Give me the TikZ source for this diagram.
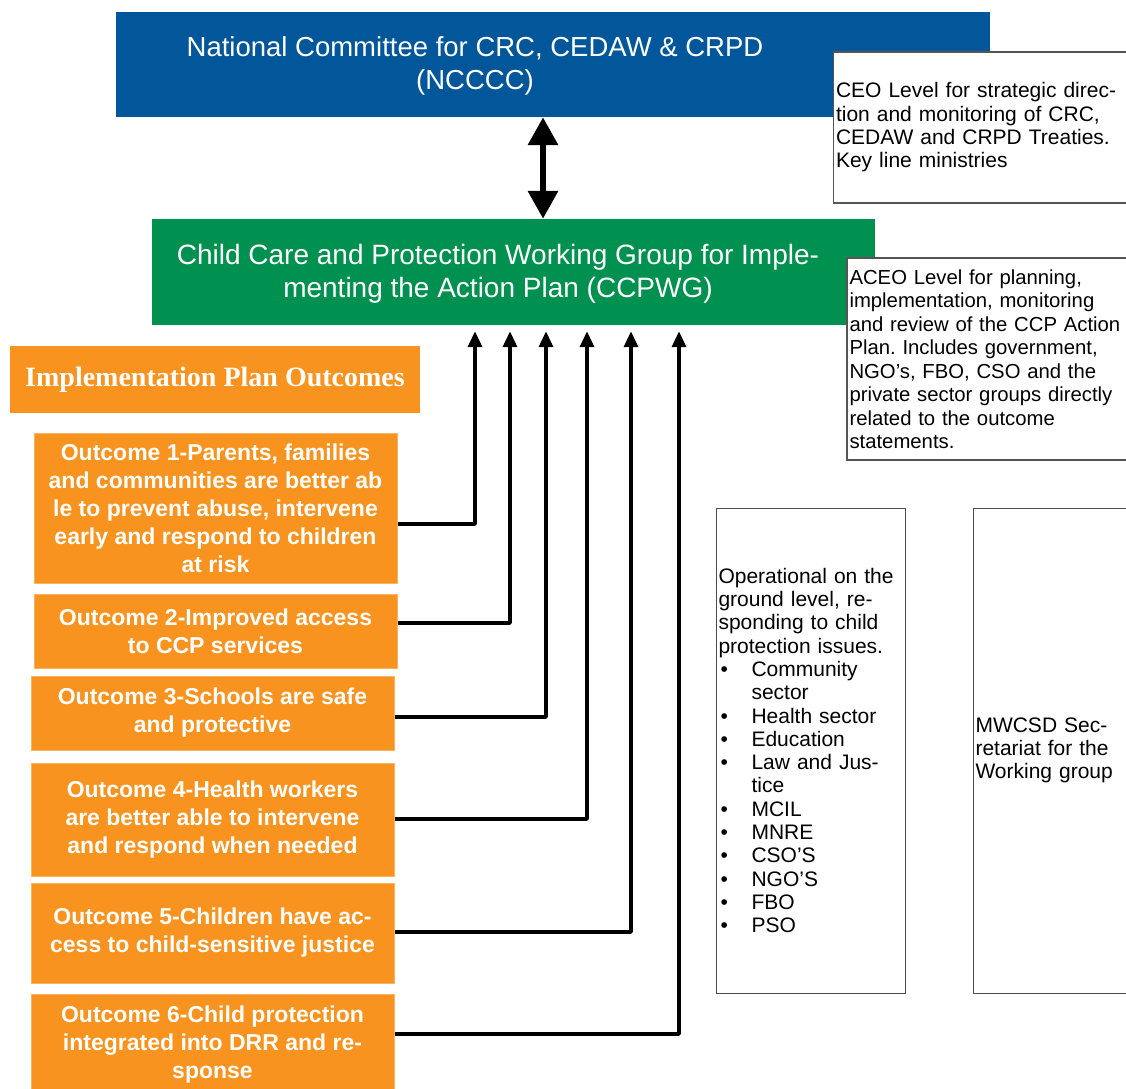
\documentclass[tikz,border=0pt]{standalone}
\usepackage{fontspec}
\setmainfont{Liberation Sans}
\newfontfamily\headserif{Liberation Serif}
\usetikzlibrary{arrows.meta}
\definecolor{ncblue}{HTML}{02569A}
\definecolor{ccgreen}{HTML}{00904F}
\definecolor{outorange}{HTML}{F7931E}
\definecolor{boxgray}{HTML}{555555}
\newcommand\mybul{\makebox[33pt][l]{\hspace{2pt}•}}
\frenchspacing
\begin{document}
\begin{tikzpicture}[x=1pt,y=-1pt,
  solidbox/.style={rectangle, inner sep=0pt, draw=none},
  whitebox/.style={rectangle, draw=boxgray, fill=white, line width=1.5pt, align=left,
     inner xsep=2.5pt, inner ysep=0pt, font=\fontsize{21}{23.3}\selectfont},
  opsbox/.style={whitebox, line width=1pt, draw=black!70},
  outbox/.style={rectangle, fill=outorange, draw=outorange!70!white, line width=1pt,
     text=white, align=center, inner sep=0pt, minimum width=363pt,
     font=\bfseries\fontsize{23}{28}\selectfont},
  titletext/.style={text=white, align=center, inner sep=0pt},
  conn/.style={line width=3.5pt, line join=round, -{Triangle[width=14pt,length=16pt]}, shorten >=6pt},
  dblarr/.style={line width=6.5pt, {Triangle[width=29pt,length=28pt]}-{Triangle[width=29pt,length=28pt]}}
]
\useasboundingbox (0,0) rectangle (1126,1088);
\clip (0,0) rectangle (1126,1088);

% top level
\node[solidbox, fill=ncblue, minimum width=874pt, minimum height=105pt] (ncccc) at (553,64.5) {};
\node[titletext, font=\fontsize{27.5}{33}\selectfont] (nccccT) at (475,66)
  {National Committee for CRC, CEDAW \& CRPD\\(NCCCC)};
\node[whitebox, minimum height=151pt, text width=302pt] (ceo) at (987,127.5)
  {CEO Level for strategic direc-\\tion and monitoring of CRC,\\CEDAW and CRPD Treaties.\\Key line ministries};

% working group
\node[solidbox, fill=ccgreen, minimum width=723pt, minimum height=106pt] (ccpwg) at (513.5,272) {};
\node[titletext, font=\fontsize{28}{33}\selectfont] (ccpwgT) at (498,274)
  {Child Care and Protection Working Group for Imple-\\menting the Action Plan (CCPWG)};
\node[whitebox, minimum height=202pt, text width=283pt, font=\fontsize{20.3}{23.5}\selectfont] (aceo) at (991,359)
  {ACEO Level for planning,\\implementation, monitoring\\and review of the CCP Action\\Plan. Includes government,\\NGO’s, FBO, CSO and the\\private sector groups directly\\related to the outcome\\statements.};

% outcomes
\node[solidbox, fill=outorange, minimum width=410pt, minimum height=67pt, text=white,
  font=\headserif\bfseries\fontsize{28}{32}\selectfont] (ipo) at (215,379.5) {Implementation Plan Outcomes};
\node[outbox, minimum height=150pt] (o1) at (215.5,508)
  {Outcome 1-Parents, families\\and communities are better ab\\le to prevent abuse, intervene\\early and respond to children\\at risk};
\node[outbox, minimum height=74pt] (o2) at (215.5,631)
  {Outcome 2-Improved access\\to CCP services};
\node[outbox, minimum height=74pt] (o3) at (212.5,713)
  {Outcome 3-Schools are safe\\and protective};
\node[outbox, minimum height=113pt] (o4) at (212.5,819.5)
  {Outcome 4-Health workers\\are better able to intervene\\and respond when needed};
\node[outbox, minimum height=100pt] (o5) at (212.5,933)
  {Outcome 5-Children have ac-\\cess to child-sensitive justice};
\node[outbox, minimum height=102pt] (o6) at (212.5,1045)
  {Outcome 6-Child protection\\integrated into DRR and re-\\sponse};

% right boxes
\node[opsbox, minimum height=485pt, text width=184pt] (ops) at (810.5,750.5)
  {Operational on the\\ground level, re-\\sponding to child\\protection issues.\\
   \mybul Community\\\hspace*{33pt}sector\\\mybul Health sector\\\mybul Education\\
   \mybul Law and Jus-\\\hspace*{33pt}tice\\\mybul MCIL\\\mybul MNRE\\\mybul CSO’S\\
   \mybul NGO’S\\\mybul FBO\\\mybul PSO};
\node[opsbox, minimum height=485pt, text width=157pt] (mwcsd) at (1054,750.5)
  {MWCSD Sec-\\retariat for the\\Working group};

% connectors
\draw[dblarr] (ncccc.south -| 543,0) -- (ccpwg.north -| 543,0);
\draw[conn] (o1.east |- 0,524) -| (ccpwg.south -| 475,0);
\draw[conn] (o2.east |- 0,623) -| (ccpwg.south -| 510,0);
\draw[conn] (o3.east |- 0,717) -| (ccpwg.south -| 546,0);
\draw[conn] (o4.east |- 0,819) -| (ccpwg.south -| 587,0);
\draw[conn] (o5.east |- 0,932) -| (ccpwg.south -| 631,0);
\draw[conn] (o6.east |- 0,1034) -| (ccpwg.south -| 679,0);
\end{tikzpicture}
\end{document}
